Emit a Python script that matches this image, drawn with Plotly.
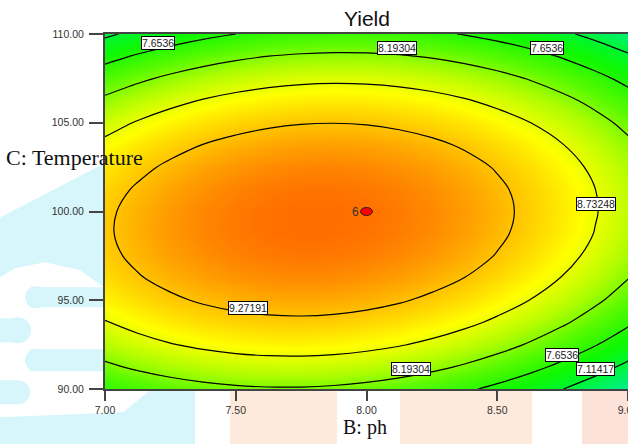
import plotly.graph_objects as go

# Factor ticks
ph_ticks = [7.00, 7.50, 8.00, 8.50, 9.00]
temp_ticks = [90.00, 95.00, 100.00, 105.00, 110.00]

# Contour levels of Yield
contour_levels = [7.11417, 7.6536, 8.19304, 8.73248, 9.27191]

# Design point (replicated centre point)
design_ph = [8.00]
design_temp = [100.00]
design_labels = ["6"]

# Yield surface sampled on a regular grid (rows: temperature, cols: ph)
grid_ph = [7.000, 7.125, 7.250, 7.375, 7.500, 7.625, 7.750, 7.875, 8.000,
           8.125, 8.250, 8.375, 8.500, 8.625, 8.750, 8.875, 9.000]
grid_temp = [90.00, 91.25, 92.50, 93.75, 95.00, 96.25, 97.50, 98.75, 100.00,
             101.25, 102.50, 103.75, 105.00, 106.25, 107.50, 108.75, 110.00]
yield_grid = [
    [7.728, 7.871, 7.986, 8.072, 8.129, 8.157, 8.157, 8.128, 8.070, 7.984, 7.868, 7.724, 7.551, 7.350, 7.120, 6.860, 6.573],
    [8.113, 8.260, 8.378, 8.468, 8.528, 8.560, 8.563, 8.538, 8.483, 8.400, 8.288, 8.147, 7.978, 7.780, 7.553, 7.297, 7.013],
    [8.442, 8.592, 8.713, 8.806, 8.870, 8.905, 8.912, 8.890, 8.839, 8.759, 8.651, 8.513, 8.348, 8.153, 7.929, 7.677, 7.396],
    [8.713, 8.866, 8.991, 9.087, 9.155, 9.194, 9.204, 9.185, 9.137, 9.061, 8.956, 8.822, 8.660, 8.469, 8.249, 8.000, 7.722],
    [8.926, 9.084, 9.212, 9.312, 9.383, 9.425, 9.438, 9.423, 9.379, 9.306, 9.204, 9.074, 8.915, 8.727, 8.510, 8.265, 7.991],
    [9.083, 9.244, 9.376, 9.479, 9.553, 9.599, 9.615, 9.604, 9.563, 9.493, 9.395, 9.268, 9.113, 8.928, 8.715, 8.473, 8.203],
    [9.183, 9.347, 9.482, 9.588, 9.666, 9.715, 9.736, 9.727, 9.690, 9.624, 9.529, 9.406, 9.254, 9.073, 8.863, 8.624, 8.357],
    [9.225, 9.392, 9.531, 9.641, 9.722, 9.775, 9.798, 9.793, 9.760, 9.697, 9.606, 9.486, 9.337, 9.160, 8.953, 8.718, 8.454],
    [9.210, 9.381, 9.523, 9.636, 9.721, 9.777, 9.804, 9.803, 9.772, 9.713, 9.625, 9.509, 9.363, 9.189, 8.986, 8.755, 8.495],
    [9.138, 9.312, 9.458, 9.575, 9.663, 9.722, 9.753, 9.755, 9.728, 9.672, 9.588, 9.474, 9.333, 9.162, 8.963, 8.734, 8.477],
    [9.009, 9.186, 9.335, 9.456, 9.547, 9.610, 9.644, 9.649, 9.626, 9.574, 9.493, 9.383, 9.245, 9.077, 8.881, 8.657, 8.403],
    [8.822, 9.003, 9.156, 9.279, 9.374, 9.441, 9.478, 9.487, 9.467, 9.418, 9.341, 9.234, 9.099, 8.936, 8.743, 8.522, 8.272],
    [8.578, 8.763, 8.919, 9.046, 9.145, 9.214, 9.255, 9.267, 9.251, 9.205, 9.131, 9.028, 8.897, 8.737, 8.547, 8.330, 8.083],
    [8.278, 8.466, 8.625, 8.756, 8.857, 8.931, 8.975, 8.991, 8.977, 8.935, 8.865, 8.765, 8.637, 8.480, 8.295, 8.080, 7.837],
    [7.919, 8.111, 8.274, 8.408, 8.513, 8.590, 8.638, 8.657, 8.647, 8.608, 8.541, 8.445, 8.321, 8.167, 7.985, 7.774, 7.534],
    [7.504, 7.699, 7.865, 8.003, 8.112, 8.192, 8.243, 8.265, 8.259, 8.224, 8.160, 8.068, 7.947, 7.797, 7.618, 7.410, 7.174],
    [7.032, 7.230, 7.400, 7.541, 7.653, 7.736, 7.791, 7.817, 7.814, 7.783, 7.722, 7.633, 7.515, 7.369, 7.193, 6.989, 6.757],
]

zmin, zmax = 6.50, 9.82
color_stops = [
    (6.50, "rgb(0,238,155)"),
    (6.85, "rgb(0,243,100)"),
    (7.15, "rgb(0,246,45)"),
    (7.50, "rgb(15,248,0)"),
    (8.00, "rgb(90,250,0)"),
    (8.40, "rgb(175,253,0)"),
    (8.85, "rgb(255,255,0)"),
    (9.30, "rgb(255,190,0)"),
    (9.82, "rgb(255,105,0)"),
]
colorscale = [[(val - zmin) / (zmax - zmin), col] for val, col in color_stops]

# The plot area runs right up to the page edge
W, H = 628, 444
L_M, R_M, T_M, B_M = 105, 0, 33.5, 55.3
PW, PH = W - L_M - R_M, H - T_M - B_M


def px(xp):
    return (xp - L_M) / PW


def py(yp):
    return (H - B_M - yp) / PH


fig = go.Figure()

fig.add_trace(go.Contour(
    x=grid_ph, y=grid_temp, z=yield_grid,
    zmin=zmin, zmax=zmax, colorscale=colorscale, showscale=False,
    contours=dict(coloring="heatmap", start=contour_levels[0],
                  end=contour_levels[-1],
                  size=contour_levels[1] - contour_levels[0]),
    line=dict(color="black", width=1.2, smoothing=1.0),
    hoverinfo="skip",
))

# Contour value labels placed along the lines
label_spots = [
    (1, 7.202, 109.52), (2, 8.118, 109.21), (1, 8.691, 109.21),
    (3, 8.878, 100.40), (4, 7.546, 94.57), (2, 8.172, 91.11),
    (1, 8.748, 91.93), (0, 8.874, 91.14),
]
annotations = []
for idx, xv, yv in label_spots:
    annotations.append(dict(
        x=xv, y=yv, xref="x", yref="y", text=str(contour_levels[idx]),
        showarrow=False, bgcolor="white", bordercolor="black",
        borderwidth=1, borderpad=0,
        font=dict(family="Liberation Sans, Arial", size=10.5, color="#222"),
    ))

for xv, yv, lab in zip(design_ph, design_temp, design_labels):
    annotations.append(dict(
        x=xv, y=yv, xref="x", yref="y", text=lab, showarrow=False,
        xanchor="right", xshift=-6,
        font=dict(family="Liberation Sans, Arial", size=12, color="#333"),
    ))

shapes = []
for xv, yv in zip(design_ph, design_temp):
    shapes.append(dict(
        type="circle", xref="x", yref="y", xsizemode="pixel",
        ysizemode="pixel", xanchor=xv, yanchor=yv,
        x0=-6, x1=6, y0=-4, y1=4,
        fillcolor="red", line=dict(color="#222", width=1), layer="above",
    ))

# Titles
annotations.append(dict(
    x=px(367), y=py(18), xref="paper", yref="paper", text="Yield",
    showarrow=False, xanchor="center", yanchor="middle",
    font=dict(family="Liberation Sans, Arial", size=21, color="#111"),
))
annotations.append(dict(
    x=px(4), y=py(157), xref="paper", yref="paper", text="C: Temperature",
    showarrow=False, xanchor="left", yanchor="middle",
    font=dict(family="Liberation Serif, Times New Roman", size=22,
              color="#111"),
))
annotations.append(dict(
    x=px(365), y=py(427), xref="paper", yref="paper", text="B: ph",
    showarrow=False, xanchor="center", yanchor="middle",
    font=dict(family="Liberation Serif, Times New Roman", size=20,
              color="#111"),
))

# Pale background artwork in the margins
cyan, peach, pink = "#d6f6fb", "#fdeadd", "#fde2da"


def poly(points, color):
    d = "M " + " L ".join(f"{px(a):.4f},{py(b):.4f}" for a, b in points) + " Z"
    return dict(type="path", path=d, xref="paper", yref="paper",
                fillcolor=color, line=dict(width=0), layer="below")


def disc(cx, cy, r, color):
    return dict(type="circle", xref="paper", yref="paper",
                x0=px(cx - r), x1=px(cx + r), y0=py(cy + r), y1=py(cy - r),
                fillcolor=color, line=dict(width=0), layer="below")


shapes += [
    poly([(0, 217), (104, 163), (104, 287), (80, 270), (45, 262), (15, 268),
          (0, 277)], cyan),
    poly([(30, 287), (104, 287), (104, 307), (30, 307)], cyan),
    disc(36, 297, 11, cyan),
    poly([(0, 318), (18, 318), (18, 342), (0, 342)], cyan),
    disc(18, 330, 13, cyan),
    poly([(30, 349), (104, 349), (104, 371), (30, 371)], cyan),
    disc(36, 360, 11, cyan),
    poly([(0, 380), (18, 380), (18, 404), (0, 404)], cyan),
    disc(18, 392, 12, cyan),
    poly([(0, 417), (123, 412), (150, 390), (195, 390), (195, 444),
          (0, 444)], cyan),
    poly([(230, 390), (337, 390), (337, 444), (230, 444)], peach),
    poly([(400, 390), (532, 390), (532, 444), (400, 444)], peach),
    poly([(582, 390), (628, 390), (628, 444), (582, 444)], pink),
]

axis_common = dict(
    showline=True, linecolor="#444", linewidth=2, mirror=True,
    ticks="outside", tickcolor="#444", tickwidth=1.5, showgrid=False,
    zeroline=False, tickformat=".2f", ticklabeloverflow="allow",
    automargin=False,
    tickfont=dict(family="Liberation Sans, Arial", size=10.5, color="#333"),
)

fig.update_layout(
    width=W, height=H,
    margin=dict(l=L_M, r=R_M, t=T_M, b=B_M, pad=0),
    paper_bgcolor="white", plot_bgcolor="white",
    xaxis=dict(range=[ph_ticks[0], ph_ticks[-1]], tickvals=ph_ticks,
               ticklen=10, **axis_common),
    yaxis=dict(range=[temp_ticks[0], temp_ticks[-1]], tickvals=temp_ticks,
               ticklen=14, ticklabelstandoff=3, **axis_common),
    annotations=annotations, shapes=shapes, showlegend=False,
)

fig.write_html("out.html")
